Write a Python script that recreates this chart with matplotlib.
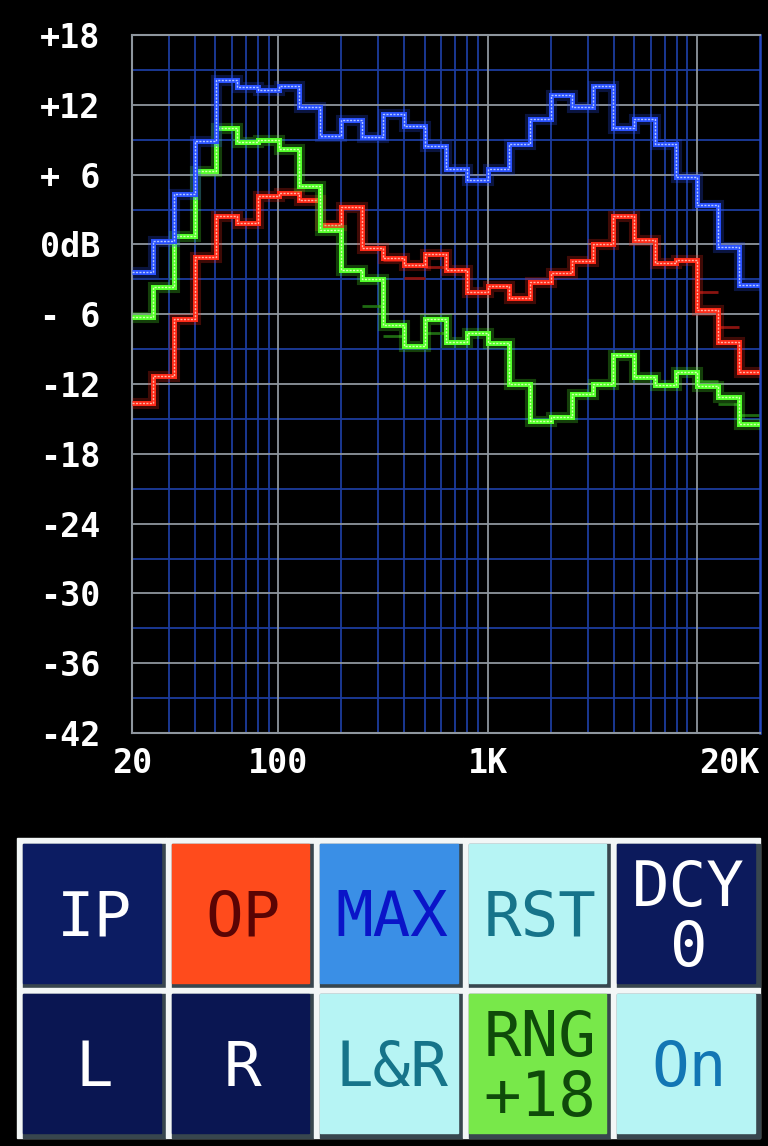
import numpy as np
import matplotlib
matplotlib.use('Agg')
import matplotlib.pyplot as plt
from matplotlib.patches import Rectangle
from matplotlib.ticker import NullLocator

# 30 third-octave bands from 20 Hz to 20 kHz
band_edges = 20 * 10 ** (np.arange(31) / 10)

# levels per band in dB
max_db = [-2.4, 0.3, 4.3, 8.9, 14.1, 13.5, 13.3, 13.6, 11.8, 9.3,
          10.7, 9.2, 11.2, 10.2, 8.5, 6.5, 5.5, 6.5, 8.6, 10.8,
          12.8, 11.8, 13.6, 10.0, 10.8, 8.6, 5.8, 3.4, -0.2, -3.5]
ip_db = [-6.2, -3.7, 0.7, 6.3, 10.0, 8.8, 9.0, 8.2, 5.0, 1.2,
         -2.2, -3.0, -6.9, -8.7, -6.4, -8.4, -7.6, -8.5, -12.0, -15.2,
         -14.8, -12.9, -12.0, -9.5, -11.4, -12.1, -11.0, -12.2, -13.1, -15.4]
op_db = [-13.6, -11.3, -6.4, -1.1, 2.4, 1.8, 4.2, 4.4, 3.8, 1.7,
         3.2, -0.3, -1.2, -1.8, -0.8, -2.2, -4.1, -3.6, -4.6, -3.2,
         -2.5, -1.4, 0.0, 2.4, 0.4, -1.6, -1.3, -5.6, -8.4, -11.0]

# faint decaying traces left on the screen
op_trail_bands = [12, 13, 14, 27, 28]
op_trail_db = [-1.3, -2.9, -1.9, -4.1, -7.1]
ip_trail_bands = [11, 12, 14, 27, 28, 29]
ip_trail_db = [-5.3, -7.9, -7.6, -11.7, -13.7, -14.7]

db_ticks = [18, 12, 6, 0, -6, -12, -18, -24, -30, -36, -42]
db_labels = ['+18', '+12', '+ 6', '0dB', '- 6', '-12', '-18', '-24', '-30', '-36', '-42']
db_minor = [15, 9, 3, -3, -9, -15, -21, -27, -33, -39]
freq_ticks = [20, 100, 1000, 20000]
freq_labels = ['20', '100', '1K', '20K']
freq_major = [100, 1000, 10000]
freq_minor = [30, 40, 50, 60, 70, 80, 90,
              200, 300, 400, 500, 600, 700, 800, 900,
              2000, 3000, 4000, 5000, 6000, 7000, 8000, 9000]

btn_labels = ['IP', 'OP', 'MAX', 'RST', 'DCY\n0',
              'L', 'R', 'L&R', 'RNG\n+18', 'On']
btn_faces = ['#0c1c62', '#ff4b1c', '#3a8fe6', '#b6f4f4', '#0c1a5c',
             '#0a1652', '#0a1652', '#b6f4f4', '#78e84a', '#b6f4f4']
btn_text = ['white', '#5a0404', '#0a14c8', '#16748a', 'white',
            'white', 'white', '#16748a', '#0f4a0a', '#1276b4']

GRID_BLUE = '#1c3c9e'
GRID_GRAY = '#8e969e'
W, H = 768, 1146

fig = plt.figure(figsize=(7.68, 11.46), dpi=100, facecolor='black')

# button panel drawn in pixel coordinates
bax = fig.add_axes([0, 0, 1, 1], zorder=-1)
bax.set_xlim(0, W)
bax.set_ylim(H, 0)
bax.set_facecolor('black')
bax.axis('off')
bw, bh = 148.6, 150
for i, lab in enumerate(btn_labels):
    x = 17 + bw * (i % 5)
    y = 838 + bh * (i // 5)
    bax.add_patch(Rectangle((x, y), bw, bh, color='#f2f6f6'))
    bax.add_patch(Rectangle((x + 6, y + 6), bw - 6, bh - 6, color='#38464e'))
    bax.add_patch(Rectangle((x + 6, y + 6), bw - 11, bh - 11, color=btn_faces[i]))
    bax.text(x + bw / 2 + 3, y + bh / 2 + 6, lab, ha='center', va='center',
             fontsize=45, family='DejaVu Sans Mono', color=btn_text[i],
             linespacing=1.0)

ax = fig.add_axes([132 / W, 1 - 733 / H, 628 / W, 698 / H])
ax.set_facecolor('black')
ax.set_xscale('log')
ax.set_xlim(20, 20000)
ax.set_ylim(-42, 18)

for f in freq_minor:
    ax.axvline(f, color=GRID_BLUE, lw=1.3, zorder=1)
for d in db_minor:
    ax.axhline(d, color=GRID_BLUE, lw=1.3, zorder=1)
for f in freq_major:
    ax.axvline(f, color=GRID_GRAY, lw=1.3, zorder=1.5)
for d in db_ticks:
    ax.axhline(d, color=GRID_GRAY, lw=1.3, zorder=1.5)

for s in ['left', 'top', 'bottom']:
    ax.spines[s].set_color(GRID_GRAY)
    ax.spines[s].set_linewidth(1.5)
ax.spines['right'].set_color('#2447c0')
ax.spines['right'].set_linewidth(1.8)

# faint trails
ax.hlines(op_trail_db, band_edges[op_trail_bands], band_edges[np.array(op_trail_bands) + 1],
          color='#8a1410', lw=2, zorder=2)
ax.hlines(ip_trail_db, band_edges[ip_trail_bands], band_edges[np.array(ip_trail_bands) + 1],
          color='#1f6a12', lw=2, zorder=2)

traces = [(op_db, '#ff2a18', '#ffb4a4'),
          (ip_db, '#52ff2a', '#d6ffb0'),
          (max_db, '#2a52ff', '#b4c8ff')]
for k, (vals, col, core) in enumerate(traces):
    z = 3 + k
    ax.stairs(vals, band_edges, baseline=None, color=col, lw=8, alpha=0.25, zorder=z)
    ax.stairs(vals, band_edges, baseline=None, color=col, lw=3.6, zorder=z)
    ax.stairs(vals, band_edges, baseline=None, color=core, lw=1.0, ls=(0, (1.5, 1)), zorder=z)

ax.xaxis.set_minor_locator(NullLocator())
ax.set_xticks(freq_ticks, freq_labels)
ax.set_yticks(db_ticks, db_labels)
ax.tick_params(axis='both', length=0, colors='white', labelsize=24)
ax.tick_params(axis='y', pad=23)
ax.tick_params(axis='x', pad=10)
for lab in ax.get_xticklabels() + ax.get_yticklabels():
    lab.set_fontfamily('DejaVu Sans Mono')
    lab.set_fontweight('bold')
ax.get_xticklabels()[-1].set_ha('right')

fig.savefig('out.png', dpi=100, facecolor='black')
